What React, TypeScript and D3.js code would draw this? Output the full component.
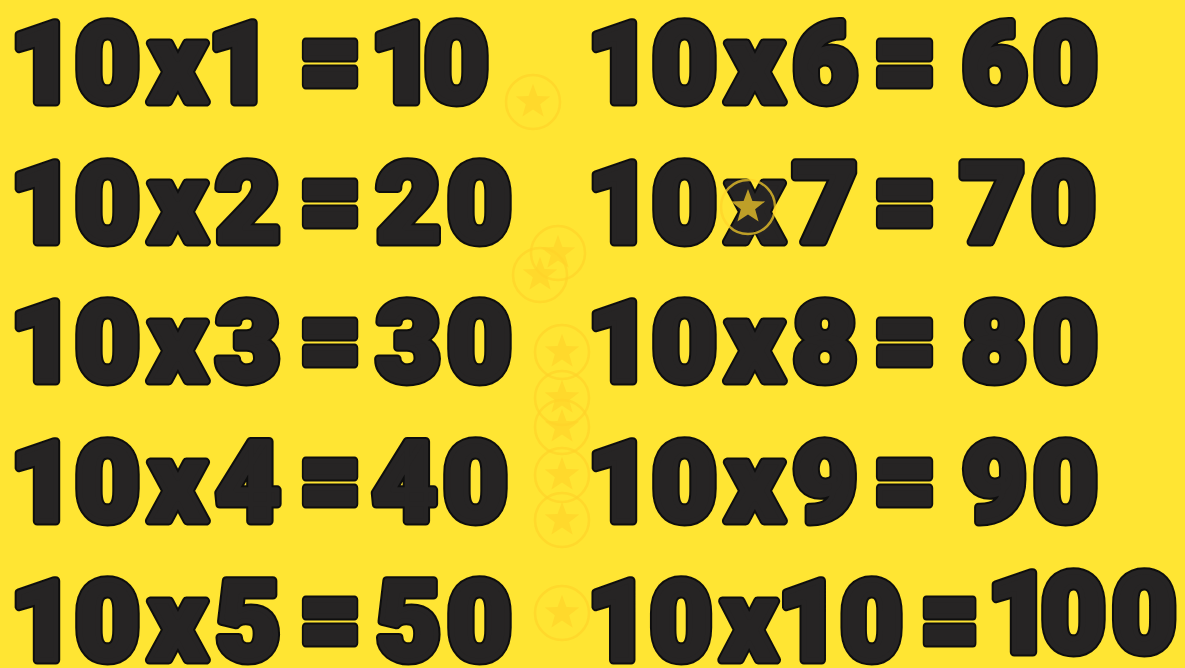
import React from "react";
import * as d3 from "d3";

// ---- data ----
const leftOperand = 10;
const multipliers = [1, 2, 3, 4, 5, 6, 7, 8, 9, 10];
const products = [10, 20, 30, 40, 50, 60, 70, 80, 90, 100];
// decorative faint star coins (centre x, centre y)
const starX = [533, 558, 540, 562, 562, 562, 562, 562, 562, 748];
const starY = [102, 253, 275, 352, 398, 427, 475, 520, 613, 207];

// ---- layout ----
const W = 1185;
const H = 668;
const BG = "#FFE533";
const INK = "#262424";
const RIM = "#0e0e0e";
const STAR = "#FFD42A";
const FONT = "Roboto, 'Noto Sans', 'DejaVu Sans', sans-serif";
const FONT_SIZE = 112;

const colX = [10, 587];
const eqSeg = [
  [297, 364], [297, 364], [297, 364], [297, 364], [297, 364],
  [871, 939], [871, 939], [871, 939], [871, 939], [918, 982],
];
const resX = [370, 376, 376, 372, 376, 962, 960, 962, 962, 987];
const resDy = [0, 0, 0, 0, 0, 0, 0, 0, 0, -8];
const leftSx = [1, 1, 1, 1, 1, 1, 1, 1, 1, 0.965];

const rowY = d3.scaleLinear().domain([0, 4]).range([102, 660]);

// per-glyph spacing: tighter around the tabular "1"
function gaps(text: string, base: number, nearOne: number, afterOne: number) {
  const out: number[] = [];
  for (let k = 0; k < text.length; k++) {
    if (k === 0) { out.push(0); continue; }
    const prev = text[k - 1];
    const cur = text[k];
    if (prev === "1") out.push(afterOne);
    else if (cur === "1") out.push(nearOne);
    else out.push(base);
  }
  return out.join(" ");
}

type OP = {
  x: number; y: number; text: string; size?: number; len?: number; dx?: string; sx?: number;
};
function Outlined({ x, y, text, size = FONT_SIZE, len, dx, sx = 1 }: OP) {
  const common: any = {
    x: 0,
    y: 0,
    fontFamily: FONT,
    fontWeight: 900,
    fontSize: size,
    strokeLinejoin: "round",
    strokeLinecap: "round",
  };
  if (dx) common.dx = dx;
  if (len) {
    common.textLength = len;
    common.lengthAdjust = "spacingAndGlyphs";
  }
  return (
    <g transform={`translate(${x},${y}) scale(${sx},1)`}>
      <text {...common} fill={RIM} stroke={RIM} strokeWidth={9}>
        {text}
      </text>
      <text {...common} fill={INK} stroke={INK} strokeWidth={5}>
        {text}
      </text>
    </g>
  );
}

const starPath = (() => {
  const pts: [number, number][] = [];
  for (let k = 0; k < 10; k++) {
    const r = k % 2 === 0 ? 18 : 7.5;
    pts.push([(k * Math.PI) / 5, r]);
  }
  return d3.lineRadial().curve(d3.curveLinearClosed)(pts) as string;
})();

export default function App() {
  return (
    <svg
      width={W}
      height={H}
      viewBox={`0 0 ${W} ${H}`}
      style={{ position: "fixed", left: 0, top: 0, display: "block" }}
    >
      <rect x={0} y={0} width={W} height={H} fill={BG} />
      {multipliers.map((m, i) => {
        const y = rowY(i % 5);
        const E = eqSeg[i];
        const left = `${leftOperand}x${m}`;
        const res = `${products[i]}`;
        return (
          <g key={i}>
            <Outlined
              x={colX[Math.floor(i / 5)]}
              y={y}
              text={left}
              dx={gaps(left, 9, 1, 0)}
              sx={leftSx[i]}
            />
            <Outlined x={E[0] + 2} y={y} len={E[1] - E[0] - 4} size={FONT_SIZE * 1.12} text="=" />
            <Outlined x={resX[i]} y={y + resDy[i]} text={res} dx={gaps(res, 6, 6, -11)} />
          </g>
        );
      })}
      {starX.map((sx, i) => (
        <g key={i} transform={`translate(${sx},${starY[i]})`} opacity={0.7}>
          <circle r={27} fill="none" stroke={STAR} strokeWidth={2.5} />
          <path d={starPath} fill={STAR} />
        </g>
      ))}
    </svg>
  );
}
